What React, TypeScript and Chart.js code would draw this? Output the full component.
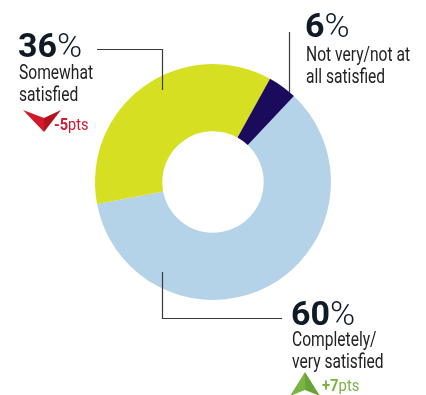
import React, { useEffect, useRef } from "react";
import { Chart, registerables } from "chart.js";

Chart.register(...registerables);

// Data
const CATEGORIES = ["Completely/very satisfied", "Somewhat satisfied", "Not very/not at all satisfied"];
const VALUES = [60, 36, 4]; // wedge sizes as drawn
const PCT_LABELS = ["60", "36", "6"];
const LINE1 = ["Completely/", "Somewhat", "Not very/not at"];
const LINE2 = ["very satisfied", "satisfied", "all satisfied"];
const CHANGE_SIGN = ["+", "-", ""];
const CHANGE_VAL = ["7", "5", ""];
const COLORS = ["#b4d2e8", "#d6df22", "#1b0b5c"];

const FONT = "Roboto, 'Noto Sans', sans-serif";
const NUM_COLOR = "#0e1a26";
const TEXT_COLOR = "#222";
const RED = "#d4182b";
const GREEN = "#7ab544";

type TextProps = {
  left: number;
  baseline: number;
  size: number;
  sx?: number;
  children: React.ReactNode;
  color?: string;
};

function Txt({ left, baseline, size, sx = 1, children, color = TEXT_COLOR }: TextProps) {
  return (
    <div
      style={{
        position: "absolute",
        left,
        top: baseline - 0.842 * size,
        fontFamily: FONT,
        fontSize: size,
        lineHeight: size + "px",
        whiteSpace: "nowrap",
        color,
        transform: `scaleX(${sx})`,
        transformOrigin: "left top",
      }}
    >
      {children}
    </div>
  );
}

function Big({ left, baseline, num }: { left: number; baseline: number; num: string }) {
  return (
    <Txt left={left} baseline={baseline} size={34} color={NUM_COLOR}>
      <span style={{ fontWeight: 700 }}>{num}</span>
      <span style={{ fontWeight: 300 }}>%</span>
    </Txt>
  );
}

const decorPlugin = {
  id: "decor",
  afterDraw(chart: any) {
    const ctx = chart.ctx as CanvasRenderingContext2D;
    ctx.save();
    ctx.strokeStyle = "#3a3a3a";
    ctx.lineWidth = 1.2;
    ctx.beginPath();
    // leader for 36%
    ctx.moveTo(97, 49.5);
    ctx.lineTo(162.5, 49.5);
    ctx.lineTo(162.5, 90);
    // leader for 6%
    ctx.moveTo(289.5, 32);
    ctx.lineTo(289.5, 93);
    // leader for 60%
    ctx.moveTo(162.5, 272);
    ctx.lineTo(162.5, 318.5);
    ctx.lineTo(282, 318.5);
    ctx.stroke();

    // red down chevron
    ctx.fillStyle = RED;
    ctx.beginPath();
    ctx.moveTo(23, 110);
    ctx.lineTo(44, 118);
    ctx.lineTo(44, 132);
    ctx.closePath();
    ctx.fill();
    ctx.fillStyle = "#b3121f";
    ctx.beginPath();
    ctx.moveTo(44, 118);
    ctx.lineTo(61, 110);
    ctx.lineTo(44, 132);
    ctx.closePath();
    ctx.fill();

    // green up chevron
    ctx.fillStyle = GREEN;
    ctx.beginPath();
    ctx.moveTo(305, 372);
    ctx.lineTo(290, 396);
    ctx.lineTo(305, 390);
    ctx.closePath();
    ctx.fill();
    ctx.fillStyle = "#68a335";
    ctx.beginPath();
    ctx.moveTo(305, 372);
    ctx.lineTo(320, 396);
    ctx.lineTo(305, 390);
    ctx.closePath();
    ctx.fill();
    ctx.restore();
  },
};

export default function App() {
  const ref = useRef<HTMLCanvasElement | null>(null);

  useEffect(() => {
    document.body.style.margin = "0";
    const chart = new Chart(ref.current as HTMLCanvasElement, {
      type: "doughnut",
      data: {
        labels: CATEGORIES,
        datasets: [
          {
            data: VALUES,
            backgroundColor: COLORS,
            borderWidth: 0,
          },
        ],
      },
      options: {
        responsive: false,
        animation: false,
        rotation: 43.3,
        cutout: "43%",
        layout: { padding: { left: 95, right: 95, top: 64, bottom: 95 } },
        plugins: {
          legend: { display: false },
          tooltip: { enabled: false },
        },
      },
      plugins: [decorPlugin],
    });
    return () => chart.destroy();
  }, []);

  return (
    <div style={{ position: "absolute", left: 0, top: 0, width: 426, height: 395, background: "#fff", overflow: "hidden" }}>
      <canvas ref={ref} width={426} height={395} style={{ position: "absolute", left: 0, top: 0 }} />

      {/* 36% Somewhat satisfied */}
      <Big left={18} baseline={57} num={PCT_LABELS[1]} />
      <Txt left={19} baseline={79} size={20} sx={0.78}>{LINE1[1]}</Txt>
      <Txt left={19} baseline={101} size={20} sx={0.78}>{LINE2[1]}</Txt>
      <Txt left={54} baseline={131} size={16.5} sx={0.88} color={RED}>
        <span style={{ fontWeight: 700 }}>{CHANGE_SIGN[1] + CHANGE_VAL[1]}</span>
        <span>pts</span>
      </Txt>

      {/* 6% Not very/not at all satisfied */}
      <Big left={305} baseline={37} num={PCT_LABELS[2]} />
      <Txt left={306} baseline={61} size={20} sx={0.78}>{LINE1[2]}</Txt>
      <Txt left={306} baseline={83} size={20} sx={0.78}>{LINE2[2]}</Txt>

      {/* 60% Completely/very satisfied */}
      <Big left={291} baseline={325} num={PCT_LABELS[0]} />
      <Txt left={292} baseline={346} size={20} sx={0.78}>{LINE1[0]}</Txt>
      <Txt left={292} baseline={368} size={20} sx={0.78}>{LINE2[0]}</Txt>
      <Txt left={322} baseline={392} size={16.5} sx={0.9} color={GREEN}>
        <span style={{ fontWeight: 700 }}>{CHANGE_SIGN[0] + CHANGE_VAL[0]}</span>
        <span>pts</span>
      </Txt>
    </div>
  );
}
